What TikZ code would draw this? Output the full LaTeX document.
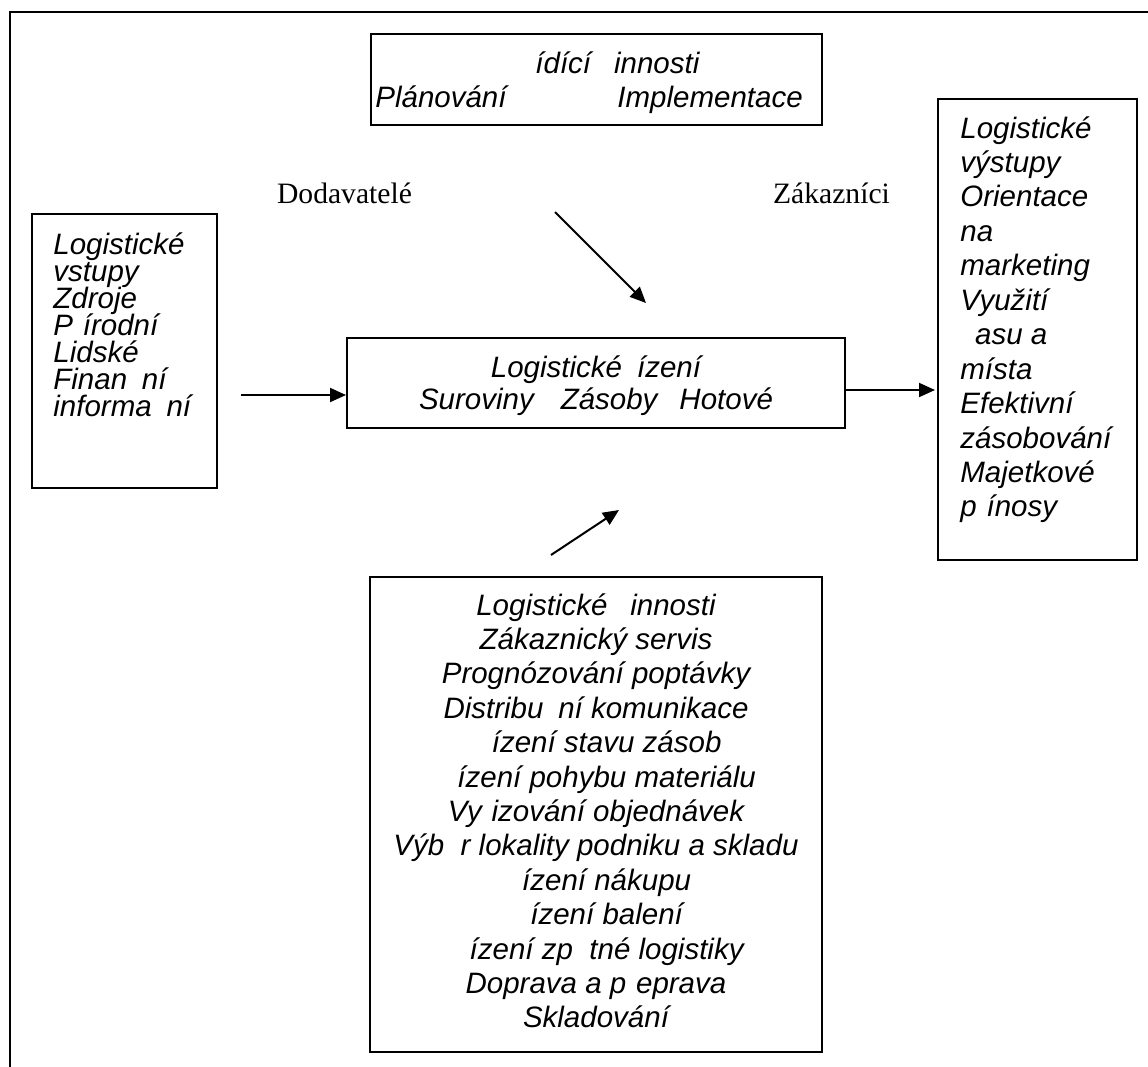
\documentclass[tikz,border=0pt]{standalone}
\usepackage{fontspec}
\setmainfont{Liberation Sans}
\newfontfamily\tnr{Liberation Serif}
\usetikzlibrary{arrows.meta}
\begin{document}
\begin{tikzpicture}[x=0.5pt,y=-0.5pt,
  boxst/.style={draw, line width=1pt, inner sep=0pt},
  it/.style={font=\fontsize{14.75}{17}\selectfont\itshape, inner sep=0pt},
  tm/.style={font=\tnr\fontsize{14.8}{17}\selectfont, inner sep=0pt, anchor=base},
  arr/.style={line width=1pt, -{Triangle[length=8pt,width=7pt]}}]
\useasboundingbox (0,0) rectangle (1148,1067);
\clip (0,0) rectangle (1148,1067);
% outer frame (cut by the page edge)
\draw[line width=1pt] (10,1100) -- (10,12) -- (1200,12);

% top box
\node[boxst, minimum width=225.5pt, minimum height=45.5pt] (top) at (596,79.5) {};
\node[it, anchor=base west] (t1) at (535,73) {ídící \hphantom{č}innosti};
\node[it, anchor=base west] (t2) at (375,107) {Plánování};
\node[it, anchor=base west] (t3) at (617,107) {Implementace};

% labels
\node[tm] (dod) at (344.5,203) {Dodavatelé};
\node[tm] (zak) at (831.5,203) {Zákazníci};

% left box
\node[boxst, minimum width=92.5pt, minimum height=137pt] (left) at (124.5,351) {};
\foreach \s [count=\i] in {Logistické, vstupy, Zdroje, {P\hphantom{ř}írodní}, Lidské, {Finan\hphantom{č}ní}, {informa\hphantom{č}ní}}
  \node[it, anchor=base west] (lb\i) at (53,{254+27*(\i-1)}) {\s};

% centre box
\node[boxst, minimum width=249pt, minimum height=45pt] (mid) at (596,383) {};
\node[it, anchor=base] (m1) at (596,377) {Logistické\hspace{7.5pt}ízení};
\node[it, anchor=base] (m2) at (596,409) {Suroviny\hspace{13.5pt}Zásoby\hspace{11pt}Hotové};

% right box
\node[boxst, minimum width=99.5pt, minimum height=230.5pt] (right) at (1037.5,329.5) {};
\foreach \s [count=\i] in {Logistické, výstupy, Orientace, na, marketing, Využití, {\hphantom{č}asu a}, místa, Efektivní, zásobování, Majetkové, {p\hphantom{ř}ínosy}}
  \node[it, anchor=base west] (rb\i) at (960,{138+34.45*(\i-1)}) {\s};

% bottom box
\node[boxst, minimum width=226pt, minimum height=237.5pt] (bot) at (596,814.5) {};
\foreach \s [count=\i] in {{Logistické \hphantom{č}innosti}, {Zákaznický servis}, {Prognózování poptávky}, {Distribu\hphantom{č}ní komunikace}, {\hphantom{Ř}ízení stavu zásob}, {\hphantom{Ř}ízení pohybu materiálu}, {Vy\hphantom{ř}izování objednávek}, {Výb\hphantom{ě}r lokality podniku a skladu}, {\hphantom{Ř}ízení nákupu}, {\hphantom{Ř}ízení balení}, {\hphantom{Ř}ízení zp\hphantom{ě}tné logistiky}, {Doprava a p\hphantom{ř}eprava}, Skladování}
  \node[it, anchor=base] (bb\i) at (596,{615+34.4*(\i-1)}) {\s};

% connectors
\coordinate (d1) at (555,212);
\coordinate (d2) at (646,303);
\coordinate (u1) at (551,555);
\coordinate (u2) at (619,510);
\coordinate (la) at (241,395);
\coordinate (ra) at (935,390);
\draw[arr] (d1) -- (d2);
\draw[arr] (u1) -- (u2);
\draw[arr] (la) -- (la -| mid.west);
\draw[arr] (ra -| mid.east) -- (ra);
\end{tikzpicture}
\end{document}
